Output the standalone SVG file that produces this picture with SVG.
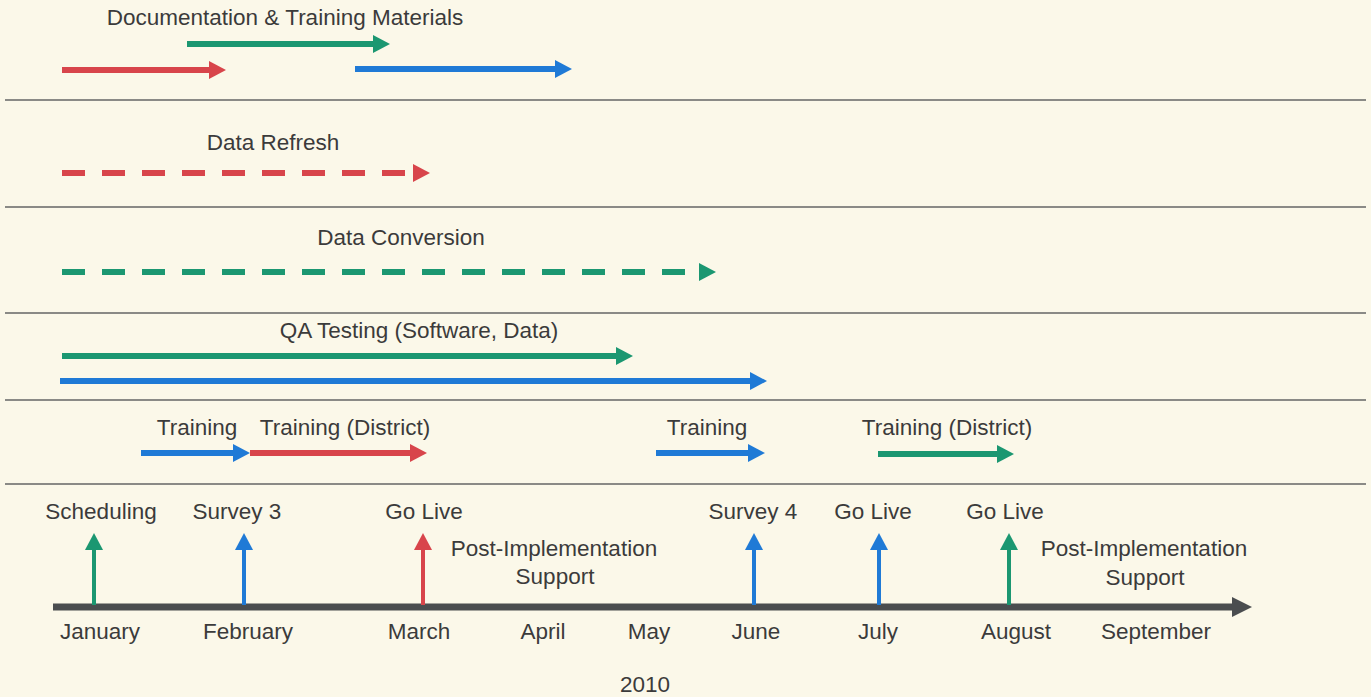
<svg xmlns="http://www.w3.org/2000/svg" width="1371" height="697" viewBox="0 0 1371 697">
<defs>
<style>
text{font-family:"Liberation Sans",Arial,sans-serif;font-size:22.5px;fill:#3b3b3b;text-anchor:middle}
.sep{stroke:#8a8a86;stroke-width:2}
.r{stroke:#d8454b;stroke-width:6;fill:none}
.g{stroke:#1b9771;stroke-width:6;fill:none}
.b{stroke:#1f7ad6;stroke-width:6;fill:none}
.v{stroke-width:4}
.d{stroke-dasharray:23 17}
</style>
<marker id="hr" markerUnits="userSpaceOnUse" markerWidth="20" markerHeight="20" refX="0" refY="9" orient="auto" overflow="visible"><path d="M0,0 L17,9 L0,18 z" fill="#d8454b"/></marker>
<marker id="hg" markerUnits="userSpaceOnUse" markerWidth="20" markerHeight="20" refX="0" refY="9" orient="auto" overflow="visible"><path d="M0,0 L17,9 L0,18 z" fill="#1b9771"/></marker>
<marker id="hb" markerUnits="userSpaceOnUse" markerWidth="20" markerHeight="20" refX="0" refY="9" orient="auto" overflow="visible"><path d="M0,0 L17,9 L0,18 z" fill="#1f7ad6"/></marker>
<marker id="hk" markerUnits="userSpaceOnUse" markerWidth="22" markerHeight="22" refX="0" refY="10" orient="auto" overflow="visible"><path d="M0,0 L20,10 L0,20 z" fill="#4a4d4f"/></marker>
</defs>
<rect width="1371" height="697" fill="#fbf8e9"/>
<g id="separators">
<line class="sep" x1="5" y1="100" x2="1366" y2="100"/>
<line class="sep" x1="5" y1="207" x2="1366" y2="207"/>
<line class="sep" x1="5" y1="313" x2="1366" y2="313"/>
<line class="sep" x1="5" y1="400" x2="1366" y2="400"/>
<line class="sep" x1="5" y1="484" x2="1366" y2="484"/>
</g>
<g id="labels">
<text x="285" y="25">Documentation &amp; Training Materials</text>
<text x="273" y="150">Data Refresh</text>
<text x="401" y="245">Data Conversion</text>
<text x="419" y="338">QA Testing (Software, Data)</text>
<text x="197" y="435">Training</text>
<text x="345" y="435">Training (District)</text>
<text x="707" y="435">Training</text>
<text x="947" y="435">Training (District)</text>
</g>
<g id="milestone-labels">
<text x="101" y="519">Scheduling</text>
<text x="237" y="519">Survey 3</text>
<text x="424" y="519">Go Live</text>
<text x="753" y="519">Survey 4</text>
<text x="873" y="519">Go Live</text>
<text x="1005" y="519">Go Live</text>
<text x="554" y="556">Post-Implementation</text>
<text x="555" y="584">Support</text>
<text x="1144" y="556">Post-Implementation</text>
<text x="1145" y="585">Support</text>
</g>
<g id="months">
<text x="100" y="639">January</text>
<text x="248" y="639">February</text>
<text x="419" y="639">March</text>
<text x="543" y="639">April</text>
<text x="649" y="639">May</text>
<text x="756" y="639">June</text>
<text x="878" y="639">July</text>
<text x="1016" y="639">August</text>
<text x="1156" y="639">September</text>
<text x="645" y="692">2010</text>
</g>
<g id="connectors">
<line class="g" x1="187" y1="44" x2="373" y2="44" marker-end="url(#hg)"/>
<line class="r" x1="62" y1="70" x2="209" y2="70" marker-end="url(#hr)"/>
<line class="b" x1="355" y1="69" x2="555" y2="69" marker-end="url(#hb)"/>
<line class="r d" x1="62" y1="173" x2="413" y2="173" marker-end="url(#hr)"/>
<line class="g d" x1="62" y1="272" x2="699" y2="272" marker-end="url(#hg)"/>
<line class="g" x1="62" y1="356" x2="616" y2="356" marker-end="url(#hg)"/>
<line class="b" x1="60" y1="381" x2="750" y2="381" marker-end="url(#hb)"/>
<line class="b" x1="141" y1="453" x2="233" y2="453" marker-end="url(#hb)"/>
<line class="r" x1="250" y1="453" x2="410" y2="453" marker-end="url(#hr)"/>
<line class="b" x1="656" y1="453" x2="748" y2="453" marker-end="url(#hb)"/>
<line class="g" x1="878" y1="454" x2="997" y2="454" marker-end="url(#hg)"/>
<line x1="53" y1="607" x2="1232" y2="607" stroke="#4a4d4f" stroke-width="7" marker-end="url(#hk)"/>
<line class="g v" x1="94" y1="605" x2="94" y2="550" marker-end="url(#hg)"/>
<line class="b v" x1="244" y1="605" x2="244" y2="550" marker-end="url(#hb)"/>
<line class="r v" x1="423" y1="605" x2="423" y2="550" marker-end="url(#hr)"/>
<line class="b v" x1="754" y1="605" x2="754" y2="550" marker-end="url(#hb)"/>
<line class="b v" x1="879" y1="605" x2="879" y2="550" marker-end="url(#hb)"/>
<line class="g v" x1="1009" y1="605" x2="1009" y2="550" marker-end="url(#hg)"/>
</g>
</svg>
